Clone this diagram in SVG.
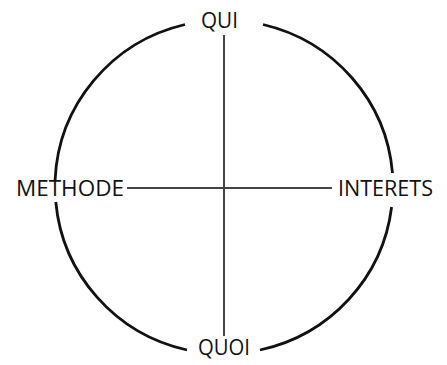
<svg xmlns="http://www.w3.org/2000/svg" width="447" height="365" viewBox="0 0 447 365">
<style>
.arc{fill:none;stroke:#111;stroke-width:2.8;stroke-linecap:butt}
.ax{stroke:#444;stroke-width:2}
.lbl{font-family:"Open Sans","Liberation Sans",sans-serif;font-size:21px;fill:#111}
</style>
<rect width="447" height="365" fill="#fff"/>
<g id="connectors">
<path class="arc" d="M185,24.5 A169,167 0 0 0 55.1,180"/>
<path class="arc" d="M55.8,202 A169,167 0 0 0 187,350"/>
<path class="arc" d="M260,350 A169,167 0 0 0 391.6,207"/>
<path class="arc" d="M392.5,173 A169,167 0 0 0 263,24.5"/>
<line class="ax" x1="224" y1="35" x2="224" y2="336"/>
<line class="ax" x1="127" y1="188" x2="332" y2="188"/>
</g>
<g id="qui"><text class="lbl" x="201" y="28" textLength="37" lengthAdjust="spacingAndGlyphs">QUI</text></g>
<g id="methode"><text class="lbl" x="16" y="196" textLength="108" lengthAdjust="spacingAndGlyphs">METHODE</text></g>
<g id="interets"><text class="lbl" x="338" y="196" textLength="95" lengthAdjust="spacingAndGlyphs">INTERETS</text></g>
<g id="quoi"><text class="lbl" x="198" y="355" textLength="52" lengthAdjust="spacingAndGlyphs">QUOI</text></g>
</svg>
